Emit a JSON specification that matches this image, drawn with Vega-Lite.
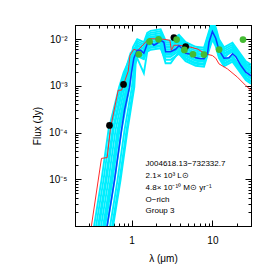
{
"$schema":"https://vega.github.io/schema/vega-lite/v6.json",
"width":176,"height":201,
"autosize":{"type":"none"},
"padding":{"left":75,"top":25,"right":22,"bottom":47},
"config":{"font":"Liberation Sans","view":{"stroke":"black","strokeWidth":1}},
"datasets":{
"cyan":[
{"m":1,"l":0.342,"f":5e-7},{"m":1,"l":0.450,"f":9.6e-6},{"m":1,"l":0.549,"f":1.125e-4},{"m":1,"l":0.734,"f":9.33e-4},{"m":1,"l":0.828,"f":1.95e-3},{"m":1,"l":0.972,"f":4.98e-3},{"m":1,"l":1.177,"f":7.38e-3},{"m":1,"l":1.42,"f":6.37e-3},{"m":1,"l":1.565,"f":1.016e-2},{"m":1,"l":1.72,"f":1.119e-2},{"m":1,"l":2.288,"f":1.205e-2},{"m":1,"l":2.638,"f":6.86e-3},{"m":1,"l":3.042,"f":6.86e-3},{"m":1,"l":3.857,"f":9.2e-3},{"m":1,"l":4.668,"f":6.37e-3},{"m":1,"l":6.209,"f":5.09e-3},{"m":1,"l":7.87,"f":4.85e-3},{"m":1,"l":9.08,"f":1.094e-2},{"m":1,"l":10.0,"f":1.848e-2},{"m":1,"l":10.99,"f":1.33e-2},{"m":1,"l":12.07,"f":7.38e-3},{"m":1,"l":13.92,"f":4.98e-3},{"m":1,"l":17.69,"f":6.2e-3},{"m":1,"l":22.42,"f":3.52e-3},{"m":1,"l":25.86,"f":2.49e-3},{"m":1,"l":30,"f":2.1e-3},
{"m":2,"l":0.373,"f":5e-7},{"m":2,"l":0.490,"f":9.6e-6},{"m":2,"l":0.599,"f":1.125e-4},{"m":2,"l":0.786,"f":9.33e-4},{"m":2,"l":0.872,"f":1.95e-3},{"m":2,"l":0.997,"f":3.04e-3},{"m":2,"l":1.177,"f":4.51e-3},{"m":2,"l":1.42,"f":3.89e-3},{"m":2,"l":1.565,"f":6.21e-3},{"m":2,"l":1.72,"f":6.84e-3},{"m":2,"l":2.288,"f":7.37e-3},{"m":2,"l":2.638,"f":4.19e-3},{"m":2,"l":3.042,"f":4.19e-3},{"m":2,"l":3.857,"f":5.62e-3},{"m":2,"l":4.668,"f":3.89e-3},{"m":2,"l":6.209,"f":3.11e-3},{"m":2,"l":7.87,"f":2.96e-3},{"m":2,"l":9.08,"f":6.69e-3},{"m":2,"l":10.0,"f":1.13e-2},{"m":2,"l":10.99,"f":8.13e-3},{"m":2,"l":12.07,"f":4.51e-3},{"m":2,"l":13.92,"f":3.04e-3},{"m":2,"l":17.69,"f":3.79e-3},{"m":2,"l":22.42,"f":2.15e-3},{"m":2,"l":25.86,"f":1.52e-3},{"m":2,"l":30,"f":1.28e-3},
{"m":3,"l":0.394,"f":5e-7},{"m":3,"l":0.519,"f":9.6e-6},{"m":3,"l":0.634,"f":1.125e-4},{"m":3,"l":0.823,"f":9.33e-4},{"m":3,"l":0.903,"f":1.95e-3},{"m":3,"l":1.015,"f":4.29e-3},{"m":3,"l":1.177,"f":6.36e-3},{"m":3,"l":1.42,"f":5.49e-3},{"m":3,"l":1.565,"f":8.76e-3},{"m":3,"l":1.72,"f":9.65e-3},{"m":3,"l":2.288,"f":1.039e-2},{"m":3,"l":2.638,"f":5.91e-3},{"m":3,"l":3.042,"f":5.91e-3},{"m":3,"l":3.857,"f":7.93e-3},{"m":3,"l":4.668,"f":5.49e-3},{"m":3,"l":6.209,"f":4.39e-3},{"m":3,"l":7.87,"f":4.18e-3},{"m":3,"l":9.08,"f":9.43e-3},{"m":3,"l":10.0,"f":1.594e-2},{"m":3,"l":10.99,"f":1.147e-2},{"m":3,"l":12.07,"f":6.36e-3},{"m":3,"l":13.92,"f":4.29e-3},{"m":3,"l":17.69,"f":5.35e-3},{"m":3,"l":22.42,"f":3.03e-3},{"m":3,"l":25.86,"f":2.15e-3},{"m":3,"l":30,"f":1.81e-3},
{"m":4,"l":0.417,"f":5e-7},{"m":4,"l":0.550,"f":9.6e-6},{"m":4,"l":0.671,"f":1.125e-4},{"m":4,"l":0.862,"f":9.33e-4},{"m":4,"l":0.934,"f":1.95e-3},{"m":4,"l":1.032,"f":2.63e-3},{"m":4,"l":1.177,"f":3.89e-3},{"m":4,"l":1.42,"f":1.86e-3},{"m":4,"l":1.565,"f":5.36e-3},{"m":4,"l":1.72,"f":5.91e-3},{"m":4,"l":2.288,"f":6.36e-3},{"m":4,"l":2.638,"f":3.62e-3},{"m":4,"l":3.042,"f":3.62e-3},{"m":4,"l":3.857,"f":4.85e-3},{"m":4,"l":4.668,"f":3.36e-3},{"m":4,"l":6.209,"f":2.69e-3},{"m":4,"l":7.87,"f":2.56e-3},{"m":4,"l":9.08,"f":5.77e-3},{"m":4,"l":10.0,"f":9.75e-3},{"m":4,"l":10.99,"f":7.02e-3},{"m":4,"l":12.07,"f":3.89e-3},{"m":4,"l":13.92,"f":2.63e-3},{"m":4,"l":17.69,"f":3.27e-3},{"m":4,"l":22.42,"f":1.86e-3},{"m":4,"l":25.86,"f":1.32e-3},{"m":4,"l":30,"f":1.11e-3},
{"m":5,"l":0.442,"f":5e-7},{"m":5,"l":0.582,"f":9.6e-6},{"m":5,"l":0.710,"f":1.125e-4},{"m":5,"l":0.902,"f":9.33e-4},{"m":5,"l":0.966,"f":1.95e-3},{"m":5,"l":1.050,"f":5.49e-3},{"m":5,"l":1.177,"f":8.14e-3},{"m":5,"l":1.42,"f":7.03e-3},{"m":5,"l":1.565,"f":1.12e-2},{"m":5,"l":1.72,"f":1.235e-2},{"m":5,"l":2.288,"f":1.329e-2},{"m":5,"l":2.638,"f":7.56e-3},{"m":5,"l":3.042,"f":7.56e-3},{"m":5,"l":3.857,"f":1.015e-2},{"m":5,"l":4.668,"f":7.03e-3},{"m":5,"l":6.209,"f":5.62e-3},{"m":5,"l":7.87,"f":5.35e-3},{"m":5,"l":9.08,"f":1.206e-2},{"m":5,"l":10.0,"f":2.04e-2},{"m":5,"l":10.99,"f":1.467e-2},{"m":5,"l":12.07,"f":8.14e-3},{"m":5,"l":13.92,"f":5.49e-3},{"m":5,"l":17.69,"f":6.84e-3},{"m":5,"l":22.42,"f":3.88e-3},{"m":5,"l":25.86,"f":2.75e-3},{"m":5,"l":30,"f":2.31e-3},
{"m":6,"l":0.468,"f":5e-7},{"m":6,"l":0.616,"f":9.6e-6},{"m":6,"l":0.752,"f":1.125e-4},{"m":6,"l":0.944,"f":9.33e-4},{"m":6,"l":1.0,"f":1.95e-3},{"m":6,"l":1.068,"f":3.36e-3},{"m":6,"l":1.177,"f":4.98e-3},{"m":6,"l":1.42,"f":4.3e-3},{"m":6,"l":1.565,"f":6.85e-3},{"m":6,"l":1.72,"f":7.55e-3},{"m":6,"l":2.288,"f":8.13e-3},{"m":6,"l":2.638,"f":4.63e-3},{"m":6,"l":3.042,"f":4.63e-3},{"m":6,"l":3.857,"f":6.2e-3},{"m":6,"l":4.668,"f":4.3e-3},{"m":6,"l":6.209,"f":3.43e-3},{"m":6,"l":7.87,"f":3.27e-3},{"m":6,"l":9.08,"f":7.38e-3},{"m":6,"l":10.0,"f":1.247e-2},{"m":6,"l":10.99,"f":8.98e-3},{"m":6,"l":12.07,"f":4.98e-3},{"m":6,"l":13.92,"f":3.36e-3},{"m":6,"l":17.69,"f":4.19e-3},{"m":6,"l":22.42,"f":2.37e-3},{"m":6,"l":25.86,"f":1.68e-3},{"m":6,"l":30,"f":1.42e-3},
{"m":7,"l":0.510,"f":5e-7},{"m":7,"l":0.671,"f":9.6e-6},{"m":7,"l":0.819,"f":1.125e-4},{"m":7,"l":1.011,"f":9.33e-4},{"m":7,"l":1.053,"f":1.95e-3},{"m":7,"l":1.096,"f":4.73e-3},{"m":7,"l":1.177,"f":7.02e-3},{"m":7,"l":1.42,"f":6.06e-3},{"m":7,"l":1.565,"f":9.66e-3},{"m":7,"l":1.72,"f":1.065e-2},{"m":7,"l":2.288,"f":1.146e-2},{"m":7,"l":2.638,"f":6.52e-3},{"m":7,"l":3.042,"f":6.52e-3},{"m":7,"l":3.857,"f":8.75e-3},{"m":7,"l":4.668,"f":6.06e-3},{"m":7,"l":6.209,"f":4.84e-3},{"m":7,"l":7.87,"f":4.61e-3},{"m":7,"l":9.08,"f":1.041e-2},{"m":7,"l":10.0,"f":1.759e-2},{"m":7,"l":10.99,"f":1.266e-2},{"m":7,"l":12.07,"f":7.02e-3},{"m":7,"l":13.92,"f":4.73e-3},{"m":7,"l":17.69,"f":5.9e-3},{"m":7,"l":22.42,"f":3.35e-3},{"m":7,"l":25.86,"f":2.37e-3},{"m":7,"l":30,"f":2.0e-3},
{"m":8,"l":0.555,"f":5e-7},{"m":8,"l":0.731,"f":9.6e-6},{"m":8,"l":0.892,"f":1.125e-4},{"m":8,"l":1.082,"f":9.33e-4},{"m":8,"l":1.108,"f":1.95e-3},{"m":8,"l":1.124,"f":2.89e-3},{"m":8,"l":1.177,"f":4.29e-3},{"m":8,"l":1.42,"f":3.71e-3},{"m":8,"l":1.565,"f":5.91e-3},{"m":8,"l":1.72,"f":6.51e-3},{"m":8,"l":2.288,"f":7.01e-3},{"m":8,"l":2.638,"f":3.04e-3},{"m":8,"l":3.042,"f":3.04e-3},{"m":8,"l":3.857,"f":5.35e-3},{"m":8,"l":4.668,"f":3.71e-3},{"m":8,"l":6.209,"f":2.96e-3},{"m":8,"l":7.87,"f":2.82e-3},{"m":8,"l":9.08,"f":6.36e-3},{"m":8,"l":10.0,"f":1.075e-2},{"m":8,"l":10.99,"f":7.74e-3},{"m":8,"l":12.07,"f":4.29e-3},{"m":8,"l":13.92,"f":2.89e-3},{"m":8,"l":17.69,"f":3.61e-3},{"m":8,"l":22.42,"f":2.05e-3},{"m":8,"l":25.86,"f":1.45e-3},{"m":8,"l":30,"f":1.22e-3},
{"m":9,"l":0.323,"f":5e-7},{"m":9,"l":0.425,"f":9.6e-6},{"m":9,"l":0.519,"f":1.125e-4},{"m":9,"l":0.702,"f":9.33e-4},{"m":9,"l":0.800,"f":1.95e-3},{"m":9,"l":0.956,"f":3.89e-3},{"m":9,"l":1.177,"f":5.77e-3},{"m":9,"l":1.42,"f":4.98e-3},{"m":9,"l":1.565,"f":7.94e-3},{"m":9,"l":1.72,"f":8.75e-3},{"m":9,"l":2.288,"f":9.42e-3},{"m":9,"l":2.638,"f":5.36e-3},{"m":9,"l":3.042,"f":5.36e-3},{"m":9,"l":3.857,"f":7.19e-3},{"m":9,"l":4.668,"f":4.98e-3},{"m":9,"l":6.209,"f":3.98e-3},{"m":9,"l":7.87,"f":3.79e-3},{"m":9,"l":9.08,"f":8.55e-3},{"m":9,"l":10.0,"f":1.445e-2},{"m":9,"l":10.99,"f":1.04e-2},{"m":9,"l":12.07,"f":5.77e-3},{"m":9,"l":13.92,"f":3.89e-3},{"m":9,"l":17.69,"f":6.0e-3},{"m":9,"l":22.42,"f":3.8e-3},{"m":9,"l":25.86,"f":2.8e-3},{"m":9,"l":30,"f":2.4e-3},
{"m":10,"l":0.540,"f":5e-7},{"m":10,"l":0.711,"f":9.6e-6},{"m":10,"l":0.868,"f":1.125e-4},{"m":10,"l":1.058,"f":9.33e-4},{"m":10,"l":1.089,"f":1.95e-3},{"m":10,"l":1.115,"f":6.06e-3},{"m":10,"l":1.177,"f":8.98e-3},{"m":10,"l":1.42,"f":7.75e-3},{"m":10,"l":1.565,"f":1.236e-2},{"m":10,"l":1.72,"f":1.362e-2},{"m":10,"l":2.288,"f":1.467e-2},{"m":10,"l":2.638,"f":8.35e-3},{"m":10,"l":3.042,"f":8.35e-3},{"m":10,"l":3.857,"f":1.119e-2},{"m":10,"l":4.668,"f":7.75e-3},{"m":10,"l":6.209,"f":6.2e-3},{"m":10,"l":7.87,"f":5.9e-3},{"m":10,"l":9.08,"f":1.331e-2},{"m":10,"l":10.0,"f":2.25e-2},{"m":10,"l":10.99,"f":1.619e-2},{"m":10,"l":12.07,"f":8.98e-3},{"m":10,"l":13.92,"f":6.06e-3},{"m":10,"l":17.69,"f":7.55e-3},{"m":10,"l":22.42,"f":4.28e-3},{"m":10,"l":25.86,"f":3.04e-3},{"m":10,"l":30,"f":2.55e-3},
{"m":11,"l":0.362,"f":5e-7},{"m":11,"l":0.477,"f":9.6e-6},{"m":11,"l":0.582,"f":1.125e-4},{"m":11,"l":0.769,"f":9.33e-4},{"m":11,"l":0.857,"f":1.95e-3},{"m":11,"l":0.989,"f":3.52e-3},{"m":11,"l":1.177,"f":5.23e-3},{"m":11,"l":1.42,"f":4.51e-3},{"m":11,"l":1.565,"f":7.19e-3},{"m":11,"l":1.72,"f":7.93e-3},{"m":11,"l":2.288,"f":8.53e-3},{"m":11,"l":2.638,"f":4.86e-3},{"m":11,"l":3.042,"f":4.86e-3},{"m":11,"l":3.857,"f":6.51e-3},{"m":11,"l":4.668,"f":4.51e-3},{"m":11,"l":6.209,"f":3.61e-3},{"m":11,"l":7.87,"f":3.43e-3},{"m":11,"l":9.08,"f":7.75e-3},{"m":11,"l":10.0,"f":1.309e-2},{"m":11,"l":10.99,"f":9.42e-3},{"m":11,"l":12.07,"f":5.23e-3},{"m":11,"l":13.92,"f":3.52e-3},{"m":11,"l":17.69,"f":4.39e-3},{"m":11,"l":22.42,"f":2.49e-3},{"m":11,"l":25.86,"f":1.77e-3},{"m":11,"l":30,"f":1.49e-3},
{"m":12,"l":0.430,"f":5e-7},{"m":12,"l":0.565,"f":9.6e-6},{"m":12,"l":0.690,"f":1.125e-4},{"m":12,"l":0.882,"f":9.33e-4},{"m":12,"l":0.950,"f":1.95e-3},{"m":12,"l":1.041,"f":6.68e-3},{"m":12,"l":1.177,"f":9.91e-3},{"m":12,"l":1.42,"f":8.56e-3},{"m":12,"l":1.565,"f":1.364e-2},{"m":12,"l":1.72,"f":1.503e-2},{"m":12,"l":2.288,"f":1.618e-2},{"m":12,"l":2.638,"f":9.21e-3},{"m":12,"l":3.042,"f":9.21e-3},{"m":12,"l":3.857,"f":1.235e-2},{"m":12,"l":4.668,"f":8.56e-3},{"m":12,"l":6.209,"f":6.84e-3},{"m":12,"l":7.87,"f":6.51e-3},{"m":12,"l":9.08,"f":1.469e-2},{"m":12,"l":10.0,"f":2.48e-2},{"m":12,"l":10.99,"f":1.787e-2},{"m":12,"l":12.07,"f":9.91e-3},{"m":12,"l":13.92,"f":6.68e-3},{"m":12,"l":17.69,"f":8.33e-3},{"m":12,"l":22.42,"f":4.72e-3},{"m":12,"l":25.86,"f":3.35e-3},{"m":12,"l":30,"f":2.82e-3}
],
"blue":[
{"l":0.468,"f":5e-7},{"l":0.616,"f":9.6e-6},{"l":0.752,"f":1.125e-4},{"l":0.819,"f":3.01e-4},{"l":0.944,"f":9.33e-4},{"l":1.0,"f":1.95e-3},{"l":1.068,"f":3.89e-3},{"l":1.177,"f":5.77e-3},{"l":1.293,"f":5.77e-3},{"l":1.42,"f":4.98e-3},{"l":1.565,"f":7.94e-3},{"l":1.72,"f":8.75e-3},{"l":1.889,"f":7.37e-3},{"l":2.082,"f":8.13e-3},{"l":2.288,"f":9.42e-3},{"l":2.513,"f":8.55e-3},{"l":2.638,"f":5.36e-3},{"l":3.042,"f":5.36e-3},{"l":3.51,"f":6.05e-3},{"l":3.857,"f":7.19e-3},{"l":4.249,"f":6.21e-3},{"l":4.668,"f":4.98e-3},{"l":5.384,"f":4.73e-3},{"l":6.209,"f":3.98e-3},{"l":7.161,"f":3.79e-3},{"l":7.87,"f":3.79e-3},{"l":8.67,"f":4.73e-3},{"l":9.08,"f":8.55e-3},{"l":10.0,"f":1.445e-2},{"l":10.99,"f":1.04e-2},{"l":12.07,"f":5.77e-3},{"l":13.92,"f":3.89e-3},{"l":16.06,"f":3.98e-3},{"l":17.69,"f":4.85e-3},{"l":19.45,"f":4.19e-3},{"l":22.42,"f":2.75e-3},{"l":25.86,"f":1.95e-3},{"l":30,"f":1.64e-3}
],
"red":[
{"l":0.319,"f":1.0e-6},{"l":0.425,"f":2.8e-5},{"l":0.5,"f":2.91e-5},{"l":0.549,"f":1.24e-4},{"l":0.684,"f":8.05e-4},{"l":0.752,"f":8.05e-4},{"l":0.91,"f":2.05e-3},{"l":0.958,"f":4.51e-3},{"l":1.068,"f":6.05e-3},{"l":1.187,"f":5.62e-3},{"l":1.639,"f":1.025e-2},{"l":2.513,"f":9.9e-3},{"l":2.983,"f":9.42e-3},{"l":3.104,"f":5.77e-3},{"l":3.344,"f":7.37e-3},{"l":3.823,"f":7.37e-3},{"l":4.668,"f":7.02e-3},{"l":5.384,"f":6.68e-3},{"l":6.52,"f":6.14e-3},{"l":8.26,"f":4.81e-3},{"l":10.0,"f":4.44e-3},{"l":10.99,"f":3.89e-3},{"l":12.07,"f":2.94e-3},{"l":15.35,"f":2.3e-3},{"l":20.4,"f":1.53e-3},{"l":25.9,"f":1.01e-3},{"l":30,"f":8.0e-4}
],
"black":[{"l":0.534,"f":1.42e-4},{"l":0.796,"f":1.07e-3},{"l":3.34,"f":1.077e-2},{"l":4.67,"f":6.9e-3}],
"green":[{"l":1.23,"f":4.73e-3},{"l":1.67,"f":8.85e-3},{"l":2.16,"f":9.9e-3},{"l":3.61,"f":9.76e-3},{"l":4.5,"f":5.85e-3},{"l":5.75,"f":4.73e-3},{"l":7.87,"f":4.67e-3},{"l":12.1,"f":5.97e-3},{"l":23.9,"f":9.76e-3}],
"txt":[{"l":1.491,"f":2.08e-5,"t":"J004618.13−732332.7"},{"l":1.491,"f":1.17e-5,"t":"2.1× 10³ L⊙"},{"l":1.491,"f":6.55e-6,"t":"4.8× 10⁻¹⁰ M⊙ yr⁻¹"},{"l":1.491,"f":3.66e-6,"t":"O−rich"},{"l":1.491,"f":2.05e-6,"t":"Group 3"}]
},
"resolve":{"axis":{"x":"independent","y":"independent"}},
"layer":[
{"data":{"name":"cyan"},"mark":{"type":"line","color":"#00eeff","strokeWidth":1.9,"clip":true},
"encoding":{
"x":{"field":"l","type":"quantitative","scale":{"type":"log","domain":[0.2,30],"nice":false},
"axis":{"orient":"bottom","values":[0.2,0.3,0.4,0.5,0.6,0.7,0.8,0.9,1,2,3,4,5,6,7,8,9,10,20,30],
"labelExpr":"datum.value == 1 ? '1' : datum.value == 10 ? '10' : ''",
"tickSize":{"condition":{"test":"datum.value == 1 || datum.value == 10","value":-6},"value":-3},
"labelPadding":15,"labelFontSize":10,"labelColor":"black","labelFlush":false,"labelOverlap":false,"labelBound":false,
"domainColor":"black","tickColor":"black","grid":false,
"title":"λ (μm)","titleFontSize":10,"titleFontWeight":"normal","titleColor":"black","titlePadding":5}},
"y":{"field":"f","type":"quantitative","scale":{"type":"log","domain":[0.000001,0.02],"nice":false},
"axis":{"orient":"left","values":[0.000001,0.000002,0.000003,0.000004,0.000005,0.000006,0.000007,0.000008,0.000009,0.00001,0.00002,0.00003,0.00004,0.00005,0.00006,0.00007,0.00008,0.00009,0.0001,0.0002,0.0003,0.0004,0.0005,0.0006,0.0007,0.0008,0.0009,0.001,0.002,0.003,0.004,0.005,0.006,0.007,0.008,0.009,0.01,0.02],
"labelExpr":"datum.value == 0.01 ? '10⁻²' : datum.value == 0.001 ? '10⁻³' : datum.value == 0.0001 ? '10⁻⁴' : datum.value == 0.00001 ? '10⁻⁵' : ''",
"tickSize":{"condition":{"test":"datum.value == 0.01 || datum.value == 0.001 || datum.value == 0.0001 || datum.value == 0.00001 || datum.value == 0.000001","value":-6},"value":-3},
"labelPadding":14,"labelFontSize":10,"labelColor":"black","labelFlush":false,"labelOverlap":false,"labelBound":false,
"domainColor":"black","tickColor":"black","grid":false,
"title":"Flux (Jy)","titleFontSize":10,"titleFontWeight":"normal","titleColor":"black","titlePadding":6}},
"detail":{"field":"m"}}},
{"data":{"name":"red"},"mark":{"type":"line","color":"#ff2a2a","strokeWidth":1,"clip":true},
"encoding":{
"x":{"field":"l","type":"quantitative","scale":{"type":"log","domain":[0.2,30],"nice":false},
"axis":{"orient":"top","values":[0.2,0.3,0.4,0.5,0.6,0.7,0.8,0.9,1,2,3,4,5,6,7,8,9,10,20,30],"labels":false,"title":null,
"tickSize":{"condition":{"test":"datum.value == 1 || datum.value == 10","value":-6},"value":-3},
"domainColor":"black","tickColor":"black","grid":false}},
"y":{"field":"f","type":"quantitative","scale":{"type":"log","domain":[0.000001,0.02],"nice":false},
"axis":{"orient":"right","values":[0.000001,0.000002,0.000003,0.000004,0.000005,0.000006,0.000007,0.000008,0.000009,0.00001,0.00002,0.00003,0.00004,0.00005,0.00006,0.00007,0.00008,0.00009,0.0001,0.0002,0.0003,0.0004,0.0005,0.0006,0.0007,0.0008,0.0009,0.001,0.002,0.003,0.004,0.005,0.006,0.007,0.008,0.009,0.01,0.02],"labels":false,"title":null,
"tickSize":{"condition":{"test":"datum.value == 0.01 || datum.value == 0.001 || datum.value == 0.0001 || datum.value == 0.00001 || datum.value == 0.000001","value":-6},"value":-3},
"domainColor":"black","tickColor":"black","grid":false}}}},
{"data":{"name":"blue"},"mark":{"type":"line","color":"#0a3cff","strokeWidth":1.5,"clip":true},
"encoding":{"x":{"field":"l","type":"quantitative","scale":{"type":"log","domain":[0.2,30],"nice":false},"axis":null},
"y":{"field":"f","type":"quantitative","scale":{"type":"log","domain":[0.000001,0.02],"nice":false},"axis":null}}},
{"data":{"name":"black"},"mark":{"type":"circle","color":"black","opacity":1,"size":45},
"encoding":{"x":{"field":"l","type":"quantitative","scale":{"type":"log","domain":[0.2,30],"nice":false},"axis":null},
"y":{"field":"f","type":"quantitative","scale":{"type":"log","domain":[0.000001,0.02],"nice":false},"axis":null}}},
{"data":{"name":"green"},"mark":{"type":"circle","color":"#44bb33","opacity":1,"size":45},
"encoding":{"x":{"field":"l","type":"quantitative","scale":{"type":"log","domain":[0.2,30],"nice":false},"axis":null},
"y":{"field":"f","type":"quantitative","scale":{"type":"log","domain":[0.000001,0.02],"nice":false},"axis":null}}},
{"data":{"name":"txt"},"mark":{"type":"text","align":"left","baseline":"middle","fontSize":8,"color":"black"},
"encoding":{"x":{"field":"l","type":"quantitative","scale":{"type":"log","domain":[0.2,30],"nice":false},"axis":null},
"y":{"field":"f","type":"quantitative","scale":{"type":"log","domain":[0.000001,0.02],"nice":false},"axis":null},
"text":{"field":"t"}}}
]
}
